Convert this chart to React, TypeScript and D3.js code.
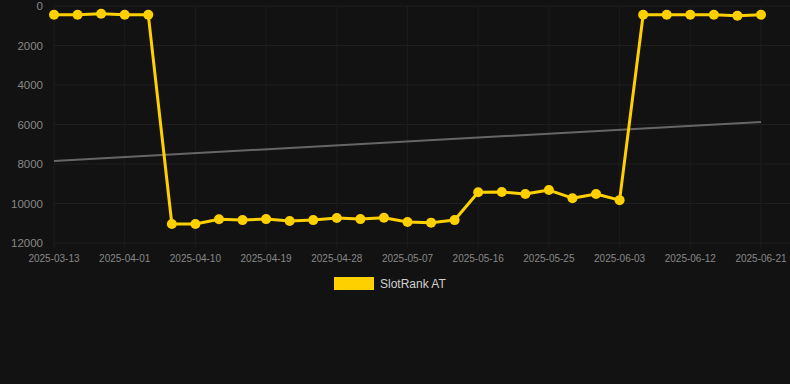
import React from "react";
import * as d3 from "d3";

const dates = [
  "2025-03-13", "2025-03-19", "2025-03-26", "2025-04-01", "2025-04-04", "2025-04-07",
  "2025-04-10", "2025-04-13", "2025-04-16", "2025-04-19", "2025-04-22", "2025-04-25",
  "2025-04-28", "2025-05-01", "2025-05-04", "2025-05-07", "2025-05-10", "2025-05-13",
  "2025-05-16", "2025-05-19", "2025-05-22", "2025-05-25", "2025-05-28", "2025-05-31",
  "2025-06-03", "2025-06-06", "2025-06-09", "2025-06-12", "2025-06-15", "2025-06-18",
  "2025-06-21",
];
const ranks = [
  440, 440, 390, 440, 440, 11040, 11040, 10800, 10840, 10790, 10890, 10840,
  10730, 10790, 10720, 10940, 10970, 10840, 9430, 9420, 9520, 9320, 9730, 9520,
  9830, 440, 440, 440, 440, 490, 440,
];
const trendValues = [7850, 5870];
const yTicks = [0, 2000, 4000, 6000, 8000, 10000, 12000];
const seriesName = "SlotRank AT";

const W = 790;
const H = 384;

export default function App() {
  const x = d3.scalePoint<string>().domain(dates).range([54, 761]);
  const y = d3.scaleLinear().domain([0, 12000]).range([6, 243]);
  const xLabels = dates.filter((_, i) => i % 3 === 0);
  const line = d3
    .line<number>()
    .x((_, i) => x(dates[i]) as number)
    .y((d) => y(d));
  const trendX = [x(dates[0]) as number, x(dates[dates.length - 1]) as number];

  return (
    <div style={{ position: "fixed", left: 0, top: 0, width: W, height: H }}>
      <svg width={W} height={H} style={{ display: "block", fontFamily: "Liberation Sans, Arial, sans-serif" }}>
        <rect x={0} y={0} width={W} height={H} fill="#121212" />
        {yTicks.map((t) => (
          <line key={"gy" + t} x1={54} x2={790} y1={y(t)} y2={y(t)} stroke="#1f1f1f" strokeWidth={1} />
        ))}
        {xLabels.map((d) => (
          <line key={"gx" + d} x1={x(d)} x2={x(d)} y1={6} y2={243} stroke="#1c1c1c" strokeWidth={1} />
        ))}
        {xLabels.map((d) => (
          <line key={"tx" + d} x1={x(d)} x2={x(d)} y1={243} y2={248} stroke="#1c1c1c" strokeWidth={1} />
        ))}
        {yTicks.map((t) => (
          <text key={"ly" + t} x={43} y={y(t)} dy="0.35em" textAnchor="end" fontSize={11.5} fill="#888">
            {t}
          </text>
        ))}
        {xLabels.map((d) => (
          <text key={"lx" + d} x={x(d)} y={262} textAnchor="middle" fontSize={10} fill="#888">
            {d}
          </text>
        ))}
        <line
          x1={trendX[0]}
          x2={trendX[1]}
          y1={y(trendValues[0])}
          y2={y(trendValues[1])}
          stroke="#666"
          strokeWidth={2}
        />
        <path d={line(ranks) || ""} fill="none" stroke="#FFD000" strokeWidth={3} strokeLinejoin="round" />
        {ranks.map((v, i) => (
          <circle key={"p" + i} cx={x(dates[i])} cy={y(v)} r={5} fill="#FFD000" />
        ))}
        <rect x={334} y={277} width={40} height={13} fill="#FFD000" />
        <text x={380} y={284} dy="0.35em" fontSize={12} fill="#d0d0d0">
          {seriesName}
        </text>
      </svg>
    </div>
  );
}
